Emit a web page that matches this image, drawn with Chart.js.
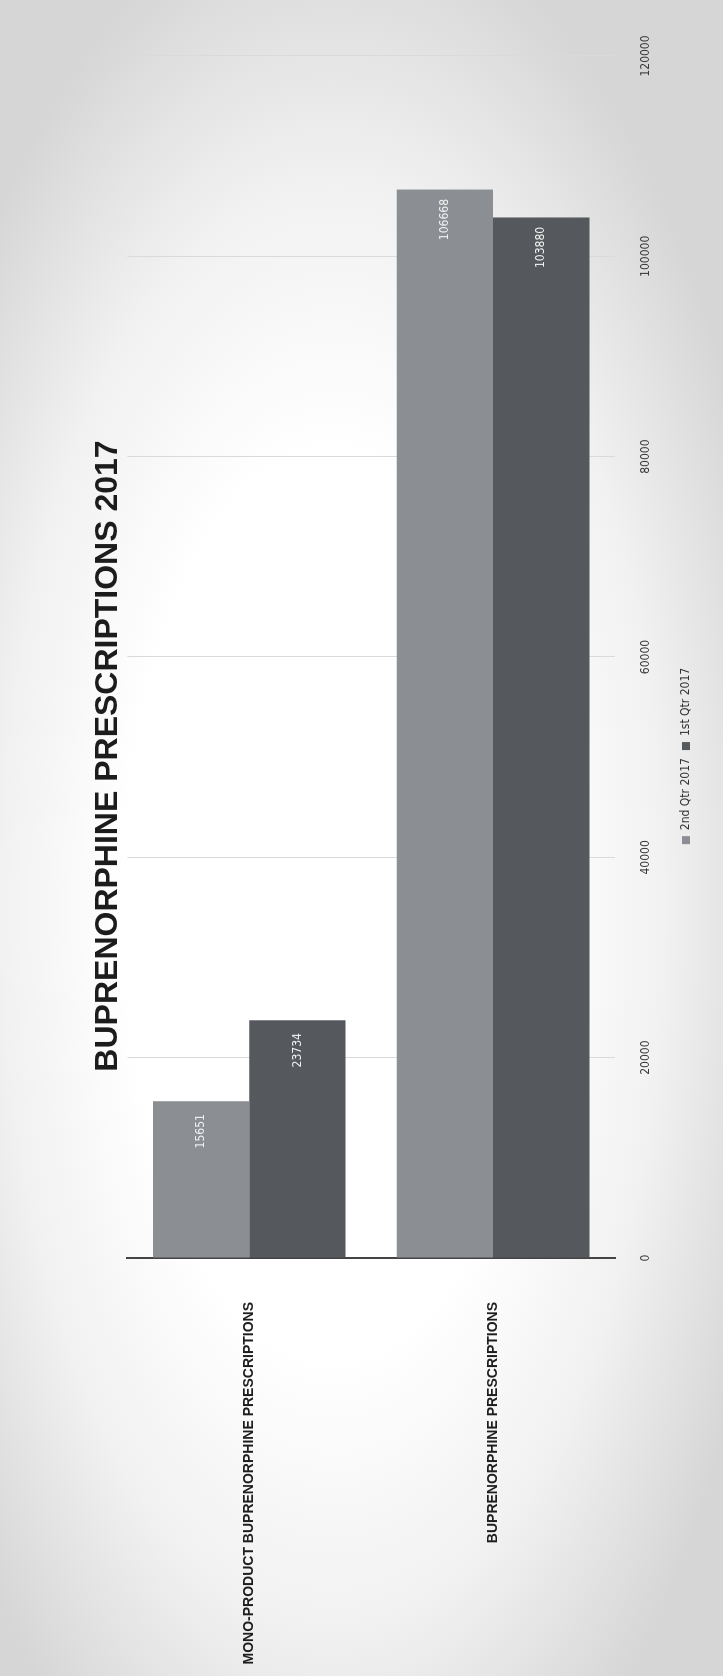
<!DOCTYPE html>
<html>
<head>
<meta charset="utf-8">
<script src="https://cdn.jsdelivr.net/npm/chart.js@4.4.0/dist/chart.umd.min.js"></script>
<style>
  html, body { margin: 0; padding: 0; }
  body {
    width: 723px; height: 1676px; overflow: hidden; position: relative;
    background: radial-gradient(ellipse 64% 60% at 46% 54%, #ffffff 45%, #f1f1f1 72%, #d6d6d6 100%);
  }
  /* the scanned page is turned on its side, so draw it flat and rotate */
  #wrap {
    position: absolute; left: 0; top: 0; width: 1676px; height: 723px;
    transform-origin: 0 0; transform: translateY(1676px) rotate(-90deg);
  }
</style>
</head>
<body>
<div id="wrap"><canvas id="rxChart" width="1676" height="723"></canvas></div>
<script>
const categories = ['MONO-PRODUCT BUPRENORPHINE PRESCRIPTIONS', 'BUPRENORPHINE PRESCRIPTIONS'];
const seriesNames = ['2nd Qtr 2017', '1st Qtr 2017'];
const q2Values = [15651, 106668];
const q1Values = [23734, 103880];
const valueTicks = [0, 20000, 40000, 60000, 80000, 100000, 120000];

const narrow = '"Liberation Sans Narrow", "DejaVu Sans Condensed", sans-serif';

const barLabels = {
  id: 'barLabels',
  afterDatasetsDraw(chart) {
    const ctx = chart.ctx;
    ctx.save();
    ctx.fillStyle = '#f2f2f2';
    ctx.font = '12px ' + narrow;
    ctx.textAlign = 'center';
    ctx.textBaseline = 'middle';
    chart.data.datasets.forEach((ds, i) => {
      chart.getDatasetMeta(i).data.forEach((bar, j) => {
        ctx.fillText(String(ds.data[j]), bar.x - 30, bar.y);
      });
    });
    ctx.restore();
  }
};

new Chart(document.getElementById('rxChart'), {
  type: 'bar',
  data: {
    labels: categories,
    datasets: [
      { label: seriesNames[0], data: q2Values, backgroundColor: '#8b8f94' },
      { label: seriesNames[1], data: q1Values, backgroundColor: '#55585c' }
    ]
  },
  options: {
    indexAxis: 'y',
    responsive: false,
    animation: false,
    categoryPercentage: 0.79,
    barPercentage: 1.0,
    layout: { padding: { left: 220, right: 56, top: 0, bottom: 21 } },
    scales: {
      y: {
        grid: { display: false },
        border: { color: '#444', width: 2 },
        ticks: { padding: 36, color: '#1e1e1e', font: { family: '"Liberation Sans", Arial, sans-serif', size: 14, weight: 'bold' } },
        afterFit(scale) {
          scale.width = 198;
          // long category names reach past the axis box, don't clip them
          scale._computeLabelArea = () => undefined;
        }
      },
      x: {
        min: 0,
        max: 120000,
        grid: { color: '#dadada', drawTicks: false },
        border: { display: false },
        afterBuildTicks(scale) { scale.ticks = valueTicks.map(v => ({ value: v })); },
        ticks: { padding: 24, color: '#3a3a3a', font: { family: narrow, size: 12 }, callback: v => String(v) },
        afterFit(scale) { scale.height = 57; }
      }
    },
    plugins: {
      title: {
        display: true,
        text: 'BUPRENORPHINE PRESCRIPTIONS 2017',
        color: '#1c1c1c',
        font: { family: '"Liberation Sans", Arial, sans-serif', size: 32, weight: 'bold' },
        padding: { top: 89, bottom: 0 }
      },
      legend: {
        position: 'bottom',
        labels: { boxWidth: 8, boxHeight: 8, padding: 8, color: '#333', font: { family: narrow, size: 12 } }
      },
      tooltip: { enabled: false }
    }
  },
  plugins: [barLabels]
});
</script>
</body>
</html>
